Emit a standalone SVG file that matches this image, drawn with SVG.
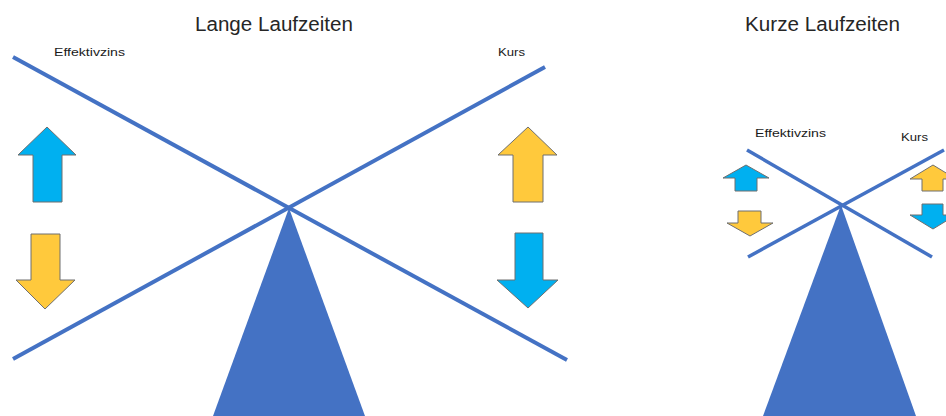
<svg xmlns="http://www.w3.org/2000/svg" width="946" height="416" viewBox="0 0 946 416">
<style>
.bar{stroke:#4472C4;fill:none;stroke-linecap:butt}
.base{fill:#4472C4}
.up{stroke:#6f6f6f;stroke-width:1}
.blue{fill:#00B0F0}
.yel{fill:#FFC93C}
.title{font-family:"Liberation Sans",Arial,sans-serif;font-size:20px;fill:#262626}
.lbl{font-family:"Liberation Sans",Arial,sans-serif;font-size:11px;fill:#1a1a1a}
</style>
<rect width="946" height="416" fill="#ffffff"/>
<g id="long">
  <text class="title" x="195" y="31" textLength="158" lengthAdjust="spacingAndGlyphs">Lange Laufzeiten</text>
  <text class="lbl" x="54" y="56" textLength="71" lengthAdjust="spacingAndGlyphs">Effektivzins</text>
  <text class="lbl" x="498" y="56" textLength="27" lengthAdjust="spacingAndGlyphs">Kurs</text>
  <polygon id="long-fulcrum" class="base" points="289,208 365,416 213,416"/>
  <g id="long-beams">
    <line class="bar" stroke-width="4" x1="13" y1="57" x2="567" y2="360"/>
    <line class="bar" stroke-width="4" x1="13" y1="359" x2="545" y2="67"/>
  </g>
  <polygon id="long-zins-up" class="up blue" points="47,127 76,155 62,155 62,202 33,202 33,155 18,155"/>
  <polygon id="long-zins-down" class="up yel" points="31,234 60,234 60,280 75,280 45,309 16,280 31,280"/>
  <polygon id="long-kurs-up" class="up yel" points="528,127 557,155 543,155 543,202 513,202 513,155 498,155"/>
  <polygon id="long-kurs-down" class="up blue" points="515,233 543,233 543,280 558,280 528,308 497,280 515,280"/>
</g>
<g id="short">
  <text class="title" x="745" y="31" textLength="155" lengthAdjust="spacingAndGlyphs">Kurze Laufzeiten</text>
  <text class="lbl" x="755" y="137" textLength="71" lengthAdjust="spacingAndGlyphs">Effektivzins</text>
  <text class="lbl" x="901" y="141" textLength="27" lengthAdjust="spacingAndGlyphs">Kurs</text>
  <polygon id="short-fulcrum" class="base" points="841,205 916,416 763,416"/>
  <g id="short-beams">
    <line class="bar" stroke-width="3.5" x1="747" y1="150" x2="932" y2="257"/>
    <line class="bar" stroke-width="3.5" x1="748" y1="257" x2="944" y2="150"/>
  </g>
  <polygon id="short-zins-up" class="up blue" points="746,165 769,178 757,178 757,191 735,191 735,178 723,178"/>
  <polygon id="short-zins-down" class="up yel" points="738,211 761,211 761,223 773,223 750,236 727,223 738,223"/>
  <polygon id="short-kurs-up" class="up yel" points="933,165 956,179 943,179 943,191 922,191 922,179 910,179"/>
  <polygon id="short-kurs-down" class="up blue" points="922,204 943,204 943,215 956,215 933,229 910,215 922,215"/>
</g>
</svg>
